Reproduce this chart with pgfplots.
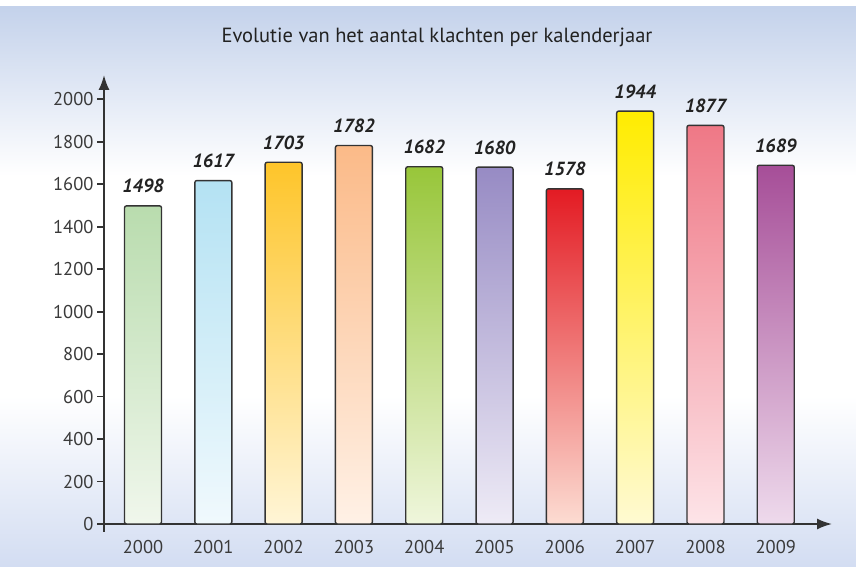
\documentclass[border=0pt]{standalone}
\usepackage{pgfplots}
\pgfplotsset{compat=1.18}
\usepackage{fontspec}
\setmainfont{PT Sans}
\usetikzlibrary{arrows.meta}

\definecolor{axc}{HTML}{333333}
\definecolor{tlc}{HTML}{3A3A3A}
\definecolor{titc}{HTML}{222222}
\definecolor{bgtop}{HTML}{C4D2EB}
\definecolor{bgbot}{HTML}{D3DDF2}
\definecolor{c0}{HTML}{B9DCAE}\definecolor{c0b}{HTML}{F0F7EC}
\definecolor{c1}{HTML}{B4E2F3}\definecolor{c1b}{HTML}{F0F9FD}
\definecolor{c2}{HTML}{FEC52A}\definecolor{c2b}{HTML}{FFF5D6}
\definecolor{c3}{HTML}{FBBA88}\definecolor{c3b}{HTML}{FFF1E6}
\definecolor{c4}{HTML}{98C63A}\definecolor{c4b}{HTML}{EFF6DC}
\definecolor{c5}{HTML}{978BC4}\definecolor{c5b}{HTML}{EEEBF6}
\definecolor{c6}{HTML}{E31B23}\definecolor{c6m}{HTML}{EE5A3C}\definecolor{c6b}{HTML}{FCDCD2}
\definecolor{c7}{HTML}{FFEC00}\definecolor{c7b}{HTML}{FFFAD2}
\definecolor{c8}{HTML}{EF7886}\definecolor{c8b}{HTML}{FDE4E8}
\definecolor{c9}{HTML}{A64E98}\definecolor{c9b}{HTML}{EEDAEC}

\pgfplotsset{
  mybar/.style={ybar, bar width=37pt, bar shift=0pt, draw=axc, line width=1.4pt,
    rounded corners=2pt, nodes near coords,
    nodes near coords style={anchor=south, inner sep=0pt, yshift=12pt,
      font=\fontsize{19}{22}\selectfont\bfseries\itshape, text=titc}},
}

\begin{document}
\begin{tikzpicture}
\useasboundingbox (0pt,0pt) rectangle (856pt,566pt);
\fill[white] (0pt,0pt) rectangle (856pt,566pt);
\shade[top color=bgtop, bottom color=white] (0pt,390pt) rectangle (856pt,559pt);
\shade[top color=white, bottom color=bgbot] (0pt,0pt) rectangle (856pt,170pt);
\node[font=\fontsize{20.5}{24}\selectfont, text=titc] at (437pt,529pt) {Evolutie van het aantal klachten per kalenderjaar};
\begin{axis}[
  at={(104pt,42pt)}, anchor=south west,
  scale only axis, width=728pt, height=449pt,
  xmin=-0.555, xmax=9.80, ymin=0, ymax=2114,
  clip=false,
  axis lines=left,
  axis line style={draw=axc, line width=1.8pt, -{Latex[length=15pt,width=11pt]}},
  ytick={0,200,...,2000},
  xtick={0,...,9},
  xticklabels={2000,2001,2002,2003,2004,2005,2006,2007,2008,2009},
  tick align=outside, major tick length=7pt,
  ytick style={draw=axc, line width=1.8pt},
  xtick style={draw=none},
  tick label style={font=\fontsize{18.5}{21}\selectfont, text=tlc},
  xticklabel style={yshift=-6pt},
  /pgf/number format/1000 sep={},
  /pgf/number format/assume math mode=true,
]
\addplot[mybar, top color=c0, bottom color=c0b] coordinates {(0,1498)};
\addplot[mybar, top color=c1, bottom color=c1b] coordinates {(1,1617)};
\addplot[mybar, top color=c2, bottom color=c2b] coordinates {(2,1703)};
\addplot[mybar, top color=c3, bottom color=c3b] coordinates {(3,1782)};
\addplot[mybar, top color=c4, bottom color=c4b] coordinates {(4,1682)};
\addplot[mybar, top color=c5, bottom color=c5b] coordinates {(5,1680)};
\addplot[mybar, top color=c6, middle color=c6m, bottom color=c6b] coordinates {(6,1578)};
\addplot[mybar, top color=c7, bottom color=c7b] coordinates {(7,1944)};
\addplot[mybar, top color=c8, bottom color=c8b] coordinates {(8,1877)};
\addplot[mybar, top color=c9, bottom color=c9b] coordinates {(9,1689)};
\draw[axc, line width=1.8pt] (axis cs:-0.555,0) -- (axis cs:-0.555,-38);
\end{axis}
\end{tikzpicture}
\end{document}
